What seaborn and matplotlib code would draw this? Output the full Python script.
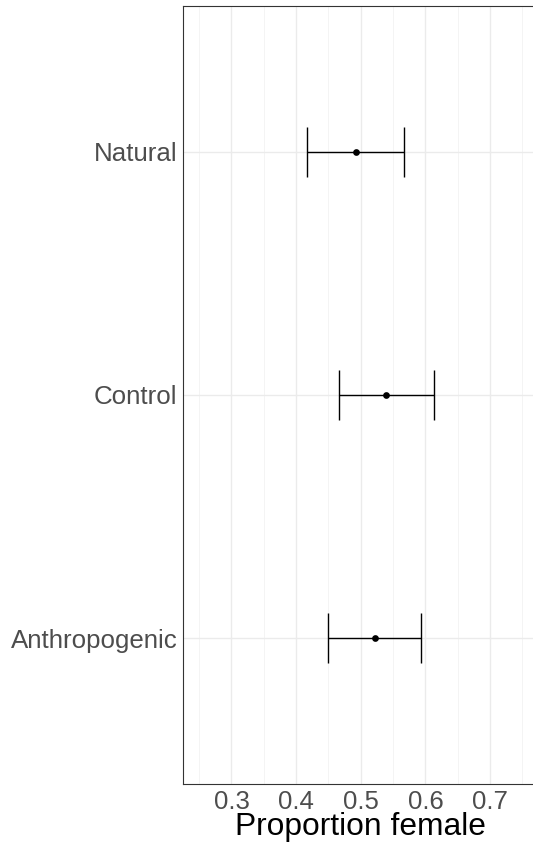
import matplotlib
matplotlib.use("Agg")
import matplotlib.pyplot as plt
from matplotlib.ticker import FixedLocator
import numpy as np
import pandas as pd
import seaborn as sns

# Sex-ratio estimates with 95% intervals by habitat type
habitat = ["Natural", "Control", "Anthropogenic"]
estimate = [0.492, 0.539, 0.522]
lower = [0.417, 0.466, 0.450]
upper = [0.567, 0.6125, 0.5935]

major_ticks = [0.3, 0.4, 0.5, 0.6, 0.7]
minor_ticks = [0.25, 0.35, 0.45, 0.55, 0.65, 0.75]

df = pd.DataFrame({"habitat": habitat, "estimate": estimate,
                   "lower": lower, "upper": upper})

sns.set_theme(style="white")
plt.rcParams["font.family"] = ["Liberation Sans", "DejaVu Sans"]

fig = plt.figure(figsize=(5.33, 8.48), dpi=100)
ax = fig.add_axes([183 / 533, 1 - 784 / 848, 355.6 / 533, 778 / 848])

sns.pointplot(data=df, x="estimate", y="habitat", order=habitat,
              linestyle="none", errorbar=None, color="black",
              markersize=2.8, ax=ax, zorder=4)

pos = np.arange(len(habitat))
ax.errorbar(df["estimate"], pos,
            xerr=[df["estimate"] - df["lower"], df["upper"] - df["estimate"]],
            fmt="none", ecolor="black", elinewidth=1.0, capsize=18,
            capthick=1.0, zorder=3)

ax.set_xlim(0.225, 0.775)
ax.set_ylim(len(habitat) - 1 + 0.6, -0.6)

ax.xaxis.set_major_locator(FixedLocator(major_ticks))
ax.xaxis.set_minor_locator(FixedLocator(minor_ticks))
ax.set_xticklabels([f"{t:.1f}" for t in major_ticks])

ax.grid(True, which="major", axis="both", color="#EBEBEB", linewidth=1.0, zorder=0)
ax.grid(True, which="minor", axis="x", color="#F2F2F2", linewidth=0.6, zorder=0)
ax.set_axisbelow(True)

for side in ["left", "top", "bottom", "right"]:
    ax.spines[side].set_visible(True)
    ax.spines[side].set_color("#333333")
    ax.spines[side].set_linewidth(0.8)

ax.tick_params(axis="both", which="both", length=0)
ax.tick_params(axis="y", labelsize=18.6, labelcolor="#4D4D4D", pad=4)
ax.tick_params(axis="x", labelsize=18.5, labelcolor="#4D4D4D", pad=4)

ax.set_ylabel("")
ax.set_xlabel("Proportion female", fontsize=22.9, color="black", labelpad=-1)

fig.savefig("out.png", dpi=100)
